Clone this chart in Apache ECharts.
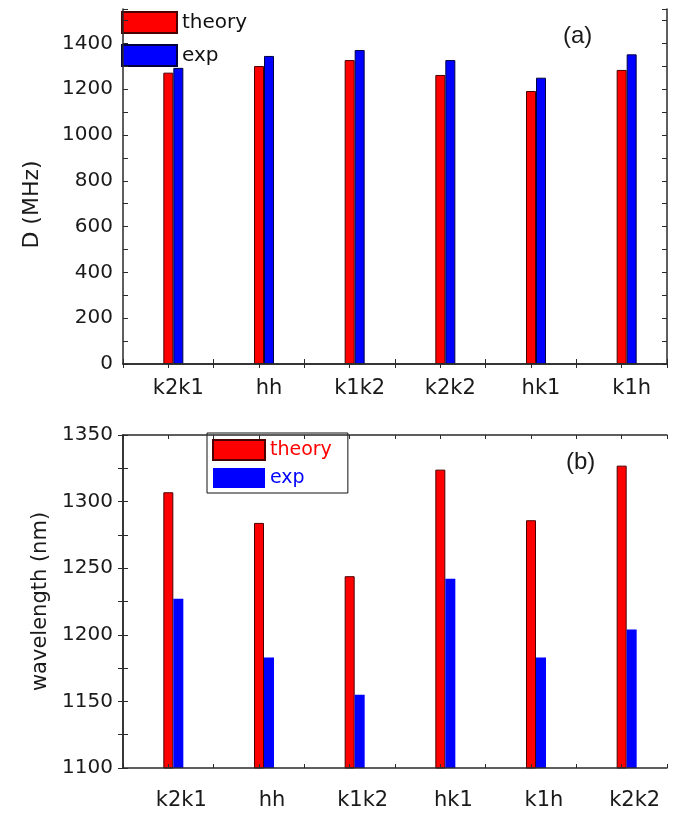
<!DOCTYPE html>
<html><head><meta charset="utf-8">
<script src="https://cdn.jsdelivr.net/npm/echarts@6/dist/echarts.min.js"></script>
<style>html,body{margin:0;padding:0;background:#fff}#c{width:686px;height:818px}</style>
</head><body><div id="c"></div>
<script>
// Panel (a)
const catsA = ['k2k1', 'hh', 'k1k2', 'k2k2', 'hk1', 'k1h'];
const theoryA = [1272, 1301, 1327, 1262, 1192, 1284];
const expA = [1293, 1345, 1371, 1327, 1250, 1352];
const yLabelsA = [0, 200, 400, 600, 800, 1000, 1200, 1400];
// Panel (b)
const catsB = ['k2k1', 'hh', 'k1k2', 'hk1', 'k1h', 'k2k2'];
const theoryB = [1307, 1284, 1244, 1324, 1286, 1327];
const expB = [1227, 1183, 1155, 1242, 1183, 1204];
const yLabelsB = [1100, 1150, 1200, 1250, 1300, 1350];

const AX = '#2a2a2a';
const FONT = 'DejaVu Sans';
const line = {show: true, lineStyle: {color: AX, width: 1.5}};
const RED = '#ff0000', BLUE = '#0000ff';

function frameX(grid, pos) {
  return {type: 'value', gridIndex: grid, position: pos, min: 0, max: 6, interval: 0.5, z: 5,
    axisLine: line, axisLabel: {show: false}, splitLine: {show: false},
    axisTick: {show: true, inside: true, length: 4, lineStyle: {color: AX, width: 1}}};
}
function yAx(grid, pos, min, max, interval, labels, name, gap, pad, nsize) {
  return {type: 'value', gridIndex: grid, position: pos, min: min, max: max, interval: interval, z: 5,
    axisLine: line, splitLine: {show: false},
    axisTick: {show: true, inside: true, length: 5, lineStyle: {color: AX, width: 1}},
    axisLabel: {show: pos === 'left', margin: 10, fontSize: 20, color: '#1a1a1a', fontFamily: FONT,
      showMaxLabel: true,
      formatter: v => labels.indexOf(v) >= 0 ? String(v) : ''},
    name: pos === 'left' ? name : '', nameLocation: 'middle', nameGap: gap,
    nameTextStyle: {fontSize: nsize || 21, color: '#1a1a1a', fontFamily: FONT, padding: pad}};
}

const chart = echarts.init(document.getElementById('c'), null, {renderer: 'canvas'});
chart.setOption({
  backgroundColor: '#fff',
  animation: false,
  grid: [
    {left: 123, top: 9, width: 544, height: 355},
    {left: 123, top: 435, width: 544, height: 333}
  ],
  xAxis: [
    {type: 'category', gridIndex: 0, position: 'bottom', data: catsA, z: 5,
      axisLine: line,
      axisTick: {show: true, inside: true, length: 5, lineStyle: {color: AX, width: 1}},
      axisLabel: {margin: 14, fontSize: 21, color: '#1a1a1a', fontFamily: FONT, padding: [0, 0, 0, 20]}},
    frameX(0, 'top'),
    {type: 'category', gridIndex: 1, position: 'bottom', data: catsB, z: 5,
      axisLine: {show: false}, axisTick: {show: false},
      axisLabel: {margin: 22, fontSize: 21, color: '#1a1a1a', fontFamily: FONT, padding: [0, 0, 0, 26]}},
    frameX(1, 'bottom'),
    frameX(1, 'top')
  ],
  yAxis: [
    yAx(0, 'left', 0, 1550, 100, yLabelsA, 'D (MHz)', 80, [0, 36, 0, 0], 22),
    yAx(0, 'right', 0, 1550, 100, yLabelsA, '', 0, 0),
    yAx(1, 'left', 1100, 1350, 25, yLabelsB, 'wavelength (nm)', 71, [0, 0, 0, 0], 21),
    yAx(1, 'right', 1100, 1350, 25, yLabelsB, '', 0, 0)
  ],
  legend: [
    {left: 121, top: 11, orient: 'vertical', padding: 0, itemWidth: 55, itemHeight: 21, itemGap: 10,
      icon: 'rect', selectedMode: false, data: ['theory', 'exp'],
      textStyle: {fontSize: 20, color: '#111', fontFamily: FONT}},
    {left: 207, top: 433, orient: 'vertical', padding: [6, 16, 5, 5], itemWidth: 52, itemHeight: 20, itemGap: 7,
      icon: 'rect', selectedMode: false, backgroundColor: '#fff', borderColor: '#111', borderWidth: 1,
      data: [
        {name: 'theory', textStyle: {color: RED}},
        {name: 'exp', textStyle: {color: BLUE}, itemStyle: {borderWidth: 0}}
      ],
      textStyle: {fontSize: 19, fontFamily: FONT}}
  ],
  series: [
    {name: '_a', type: 'bar', xAxisIndex: 0, yAxisIndex: 0, data: catsA.map(() => '-'), barWidth: 10, barGap: '0%'},
    {name: 'theory', type: 'bar', xAxisIndex: 0, yAxisIndex: 0, data: theoryA, barWidth: 10, barGap: '0%',
      itemStyle: {color: RED, borderColor: '#4a0000', borderWidth: 1}},
    {name: 'exp', type: 'bar', xAxisIndex: 0, yAxisIndex: 0, data: expA, barWidth: 10, barGap: '0%',
      itemStyle: {color: BLUE, borderColor: '#000040', borderWidth: 1}},
    {name: '_b', type: 'bar', xAxisIndex: 2, yAxisIndex: 2, data: catsB.map(() => '-'), barWidth: 10, barGap: '0%'},
    {name: 'theory', type: 'bar', xAxisIndex: 2, yAxisIndex: 2, data: theoryB, barWidth: 10, barGap: '0%',
      itemStyle: {color: RED, borderColor: '#4a0000', borderWidth: 1}},
    {name: 'exp', type: 'bar', xAxisIndex: 2, yAxisIndex: 2, data: expB, barWidth: 10, barGap: '0%',
      itemStyle: {color: BLUE, borderWidth: 0}}
  ],
  graphic: [
    {type: 'text', left: 563, top: 24, z: 10, style: {text: '(a)', fontSize: 24, fill: '#1a1a1a', fontFamily: 'Liberation Sans'}},
    {type: 'text', left: 566, top: 450, z: 10, style: {text: '(b)', fontSize: 24, fill: '#1a1a1a', fontFamily: 'Liberation Sans'}}
  ]
});
</script>
</body></html>
